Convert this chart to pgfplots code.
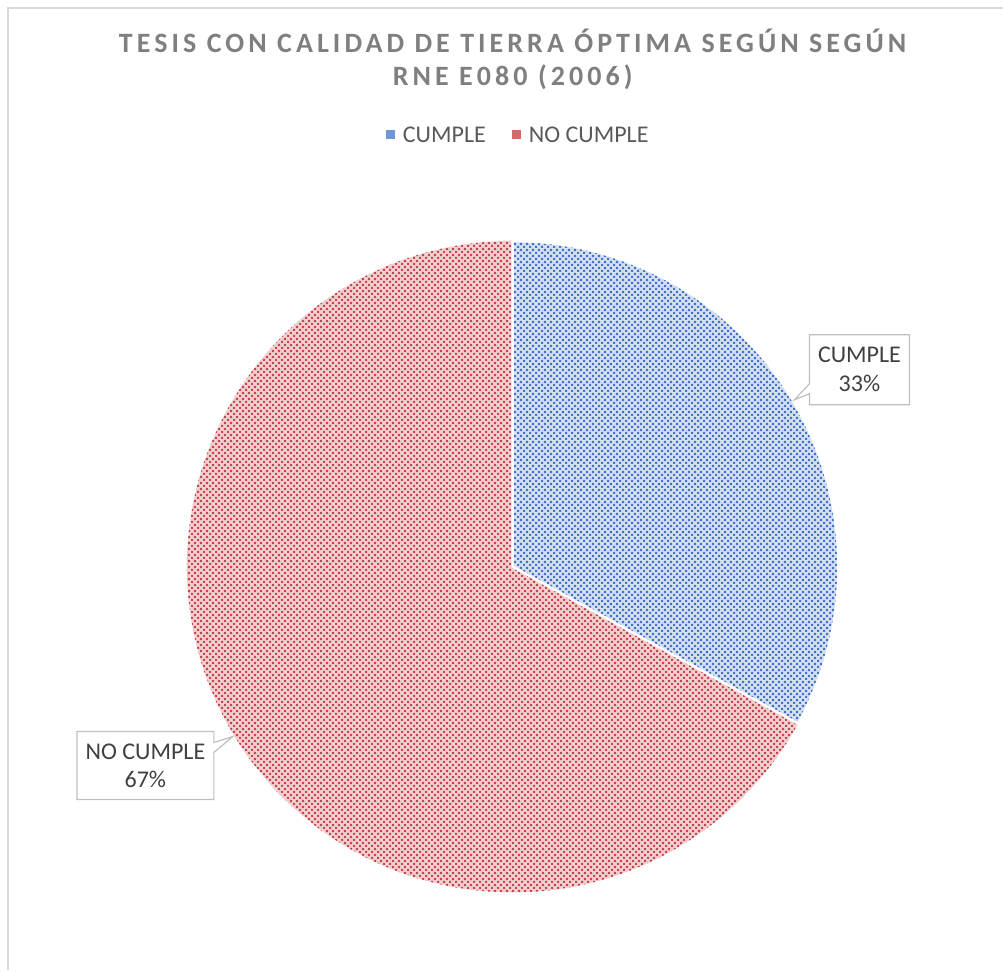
\documentclass[border=0pt]{standalone}
\usepackage{pgfplots}
\pgfplotsset{compat=1.18}
\usepackage{fontspec}
\setmainfont{Carlito}
\newfontfamily\titlefont[LetterSpace=14.5]{Carlito}
\usetikzlibrary{patterns}
\definecolor{bluedark}{HTML}{4472C4}
\definecolor{bluelight}{HTML}{D5E0F2}
\definecolor{reddark}{HTML}{C4484B}
\definecolor{redlight}{HTML}{F3D0D1}
\definecolor{bluemark}{HTML}{7097D4}
\definecolor{redmark}{HTML}{D46A6C}
\definecolor{titlegray}{HTML}{7F7F7F}
\definecolor{legendgray}{HTML}{595959}
\definecolor{labelgray}{HTML}{404040}
\definecolor{bordergray}{HTML}{D9D9D9}
\definecolor{boxgray}{HTML}{BFBFBF}
\pgfdeclarepatternformonly{exceldash}{\pgfqpoint{0pt}{0pt}}{\pgfqpoint{6.4pt}{6.4pt}}{\pgfqpoint{6.4pt}{6.4pt}}{%
  \pgfpathrectangle{\pgfqpoint{0pt}{0pt}}{\pgfqpoint{2.3pt}{2.3pt}}%
  \pgfpathrectangle{\pgfqpoint{3.2pt}{3.2pt}}{\pgfqpoint{2.3pt}{2.3pt}}%
  \pgfusepath{fill}}
% data (percent)
\def\vCumple{33}
\def\vNoCumple{67}
\pgfmathsetmacro{\splitA}{90-360*\vCumple/(\vCumple+\vNoCumple)}
\pgfmathsetmacro{\splitB}{\splitA+360}
\begin{document}
\begin{tikzpicture}
\begin{axis}[
  width=1004pt, height=971pt, scale only axis,
  xmin=0, xmax=1004, ymin=0, ymax=971, y dir=reverse,
  hide axis, clip=false,
]
\path (rel axis cs:0,0) rectangle (rel axis cs:1,1);
% chart border (top and left visible)
\draw[bordergray, line width=1.3pt] (axis cs:8,971) -- (axis cs:8,8) -- (axis cs:1004,8);
% CUMPLE slice
\addplot[draw=none, fill=bluelight, domain=\splitA:90, samples=160, variable=\t]
  ({513+326*cos(\t)},{567-326*sin(\t)}) -- (axis cs:513,567) -- cycle;
\addplot[draw=none, pattern=exceldash, pattern color=bluedark, domain=\splitA:90, samples=160, variable=\t]
  ({513+326*cos(\t)},{567-326*sin(\t)}) -- (axis cs:513,567) -- cycle;
% NO CUMPLE slice
\addplot[draw=none, fill=redlight, domain=90:\splitB, samples=300, variable=\t]
  ({513+326*cos(\t)},{567-326*sin(\t)}) -- (axis cs:513,567) -- cycle;
\addplot[draw=none, pattern=exceldash, pattern color=reddark, domain=90:\splitB, samples=300, variable=\t]
  ({513+326*cos(\t)},{567-326*sin(\t)}) -- (axis cs:513,567) -- cycle;
% white slice separators
\addplot[white, line width=2.5pt, line join=round, domain=\splitA:90, samples=160, variable=\t]
  ({513+326*cos(\t)},{567-326*sin(\t)}) -- (axis cs:513,567) -- cycle;
% title
\node[anchor=base, text=titlegray, font=\titlefont\bfseries\fontsize{28}{33}\selectfont] at (axis cs:513,53) {TESIS CON CALIDAD DE TIERRA ÓPTIMA SEGÚN SEGÚN};
\node[anchor=base, text=titlegray, font=\titlefont\bfseries\fontsize{28}{33}\selectfont] at (axis cs:513,86) {RNE E080 (2006)};
% legend
\fill[bluemark] (axis cs:386.5,130.5) rectangle (axis cs:395,139);
\node[anchor=base west, inner sep=0pt, text=legendgray, font=\fontsize{24}{29}\selectfont] at (axis cs:403,143) {CUMPLE};
\fill[redmark] (axis cs:512.5,130.5) rectangle (axis cs:521,139);
\node[anchor=base west, inner sep=0pt, text=legendgray, font=\fontsize{24}{29}\selectfont] at (axis cs:529,143) {NO CUMPLE};
% data label callouts
\draw[boxgray, fill=white, line width=1.2pt, line join=miter]
  (axis cs:810,335) -- (axis cs:910,335) -- (axis cs:910,405) -- (axis cs:810,405)
  -- (axis cs:810,394) -- (axis cs:795,400) -- (axis cs:810,384) -- cycle;
\node[anchor=base, inner sep=0pt, text=labelgray, font=\fontsize{24}{29}\selectfont] at (axis cs:860,363) {CUMPLE};
\node[anchor=base, inner sep=0pt, text=labelgray, font=\fontsize{24}{29}\selectfont] at (axis cs:860,392) {33\%};
\draw[boxgray, fill=white, line width=1.2pt, line join=miter]
  (axis cs:77,732) -- (axis cs:214,732) -- (axis cs:214,743) -- (axis cs:233,737)
  -- (axis cs:214,753) -- (axis cs:214,800) -- (axis cs:77,800) -- cycle;
\node[anchor=base, inner sep=0pt, text=labelgray, font=\fontsize{24}{29}\selectfont] at (axis cs:145.5,760) {NO CUMPLE};
\node[anchor=base, inner sep=0pt, text=labelgray, font=\fontsize{24}{29}\selectfont] at (axis cs:145.5,788) {67\%};
\end{axis}
\end{tikzpicture}
\end{document}
